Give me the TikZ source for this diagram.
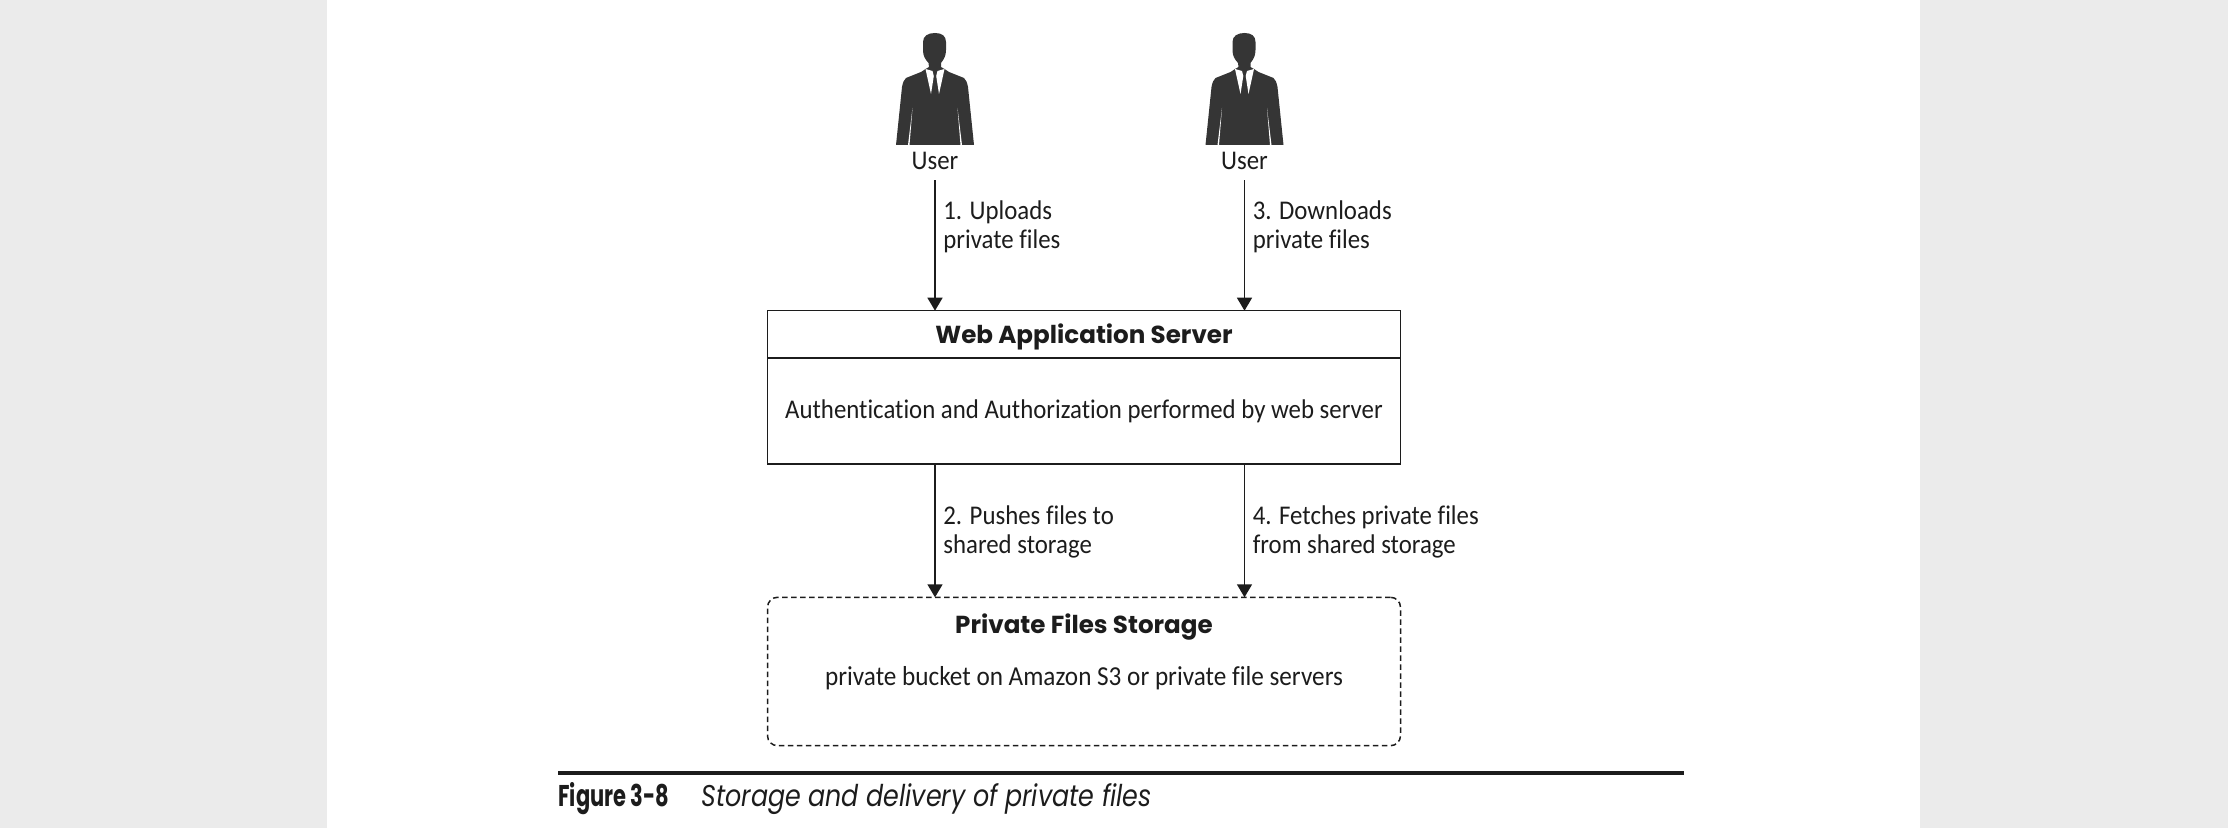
\documentclass[tikz,border=0pt]{standalone}
\usepackage{fontspec}
\setmainfont{Carlito}[FakeStretch=.92, Ligatures=NoCommon]
\newfontfamily\headfont{Poppins}
\usetikzlibrary{positioning, arrows.meta}
\definecolor{inkdark}{HTML}{1C1C1C}
\definecolor{suitgray}{HTML}{353535}
\definecolor{pagegray}{HTML}{EBEBEB}

\tikzset{
  person/.pic={
    % jacket, neck and head in one outline
    \fill[suitgray] (-39,0) -- (-33,-58) .. controls (-32,-63) and (-31,-65) .. (-29,-67)
      -- (-14,-73) -- (-9.5,-76) -- (-6,-78) -- (-6.5,-82) .. controls (-10,-86) and (-12,-89) .. (-12,-95)
      -- (-12,-103) .. controls (-12,-109) and (-7,-112) .. (0,-112)
      .. controls (7,-112) and (11,-109) .. (11,-103) -- (11,-95)
      .. controls (11,-89) and (9,-86) .. (6,-82) -- (6,-78) -- (9.5,-76) -- (14,-73)
      -- (29,-67) .. controls (31,-65) and (32,-63) .. (33,-58) -- (39,0) -- cycle;
    % shirt
    \fill[white] (-9.5,-76) -- (-2.5,-74) -- (-1.2,-69) -- (-4,-51) -- cycle;
    \fill[white] (9.5,-76) -- (2.5,-74) -- (1.2,-69) -- (4,-51) -- cycle;
    % gaps beside the arms
    \fill[white] (-22.5,-37) -- (-27,0) -- (-25.5,0) -- cycle;
    \fill[white] (22.5,-37) -- (27,0) -- (25.5,0) -- cycle;
  },
  flow/.style={-{Triangle[length=6.5pt,width=7.5pt]}, line width=.75pt, draw=inkdark},
  boxframe/.style={draw=inkdark, line width=.75pt, inner sep=0pt, outer sep=0pt, minimum width=316.5pt},
  boxtitle/.style={font=\headfont\bfseries\fontsize{12.3}{14}\selectfont, text=inkdark, inner sep=0pt, text height=11.2pt, text depth=2pt},
  boxtext/.style={font=\fontsize{13.5}{15}\selectfont, text=inkdark, inner sep=0pt},
  steplabel/.style={right, align=left, xshift=3.8pt, inner sep=0pt, text=inkdark, font=\fontsize{13.5}{14.25}\selectfont},
  username/.style={font=\fontsize{13.5}{15}\selectfont, text=inkdark, inner sep=0pt, minimum height=19pt}
}

\begin{document}
\begin{tikzpicture}[x=.5pt, y=-.5pt]

  \useasboundingbox (0,0) rectangle (2228,828);
  \fill[pagegray] (0,0) rectangle (327,828);
  \fill[pagegray] (1919.5,0) rectangle (2228,828);

  \pic at (935,145) {person};
  \pic at (1244.5,145) {person};
  \node[username] (userA) at (935,161) {User};
  \node[username] (userB) at (1244.5,161) {User};

  \node[boxframe, boxtitle, minimum height=23.6pt] (webhead) at (1084,334.3) {Web Application Server};
  \node[boxframe, boxtext, minimum height=53pt] (webbody) [below=0pt of webhead] {Authentication and Authorization performed by web server};

  \node[boxframe, dash pattern=on 2.75pt off 1.75pt, rounded corners=5pt, minimum height=74.2pt] (store) at (1084,671.5) {};
  \node[boxtitle] (storehead) at (1084,624) {Private Files Storage};
  \node[boxtext, font=\fontsize{13.7}{15}\selectfont] (storetext) at (1084,678) {private bucket on Amazon S3 or private file servers};

  \draw[flow] (userA) -- node[steplabel, pos=.356] {1. Uploads\\private files} (userA |- webhead.north);
  \draw[flow] (userB) -- node[steplabel, pos=.356] {3. Downloads\\private files} (userB |- webhead.north);
  \draw[flow] (userA |- webbody.south) -- node[steplabel, pos=.51] {2. Pushes files to\\shared storage} (userA |- store.north);
  \draw[flow] (userB |- webbody.south) -- node[steplabel, pos=.51] {4. Fetches private files\\from shared storage} (userB |- store.north);

  \coordinate (ruleL) at (558,772.7);
  \coordinate (ruleR) at (1684,772.7);
  \draw[line width=2pt, draw=inkdark] (ruleL) -- (ruleR);

  \node[anchor=base west, inner sep=0pt, text=inkdark, font=\headfont\bfseries\fontsize{15}{17}\selectfont] (figno) at (558,806.7) {\addfontfeatures{FakeStretch=.7}Figure 3-8};
  \node[anchor=base west, inner sep=0pt, text=inkdark, font=\headfont\itshape\fontsize{15}{17}\selectfont] (figtitle) at (701,806.7) {\addfontfeatures{FakeStretch=.845}Storage and delivery of private files};

\end{tikzpicture}
\end{document}
